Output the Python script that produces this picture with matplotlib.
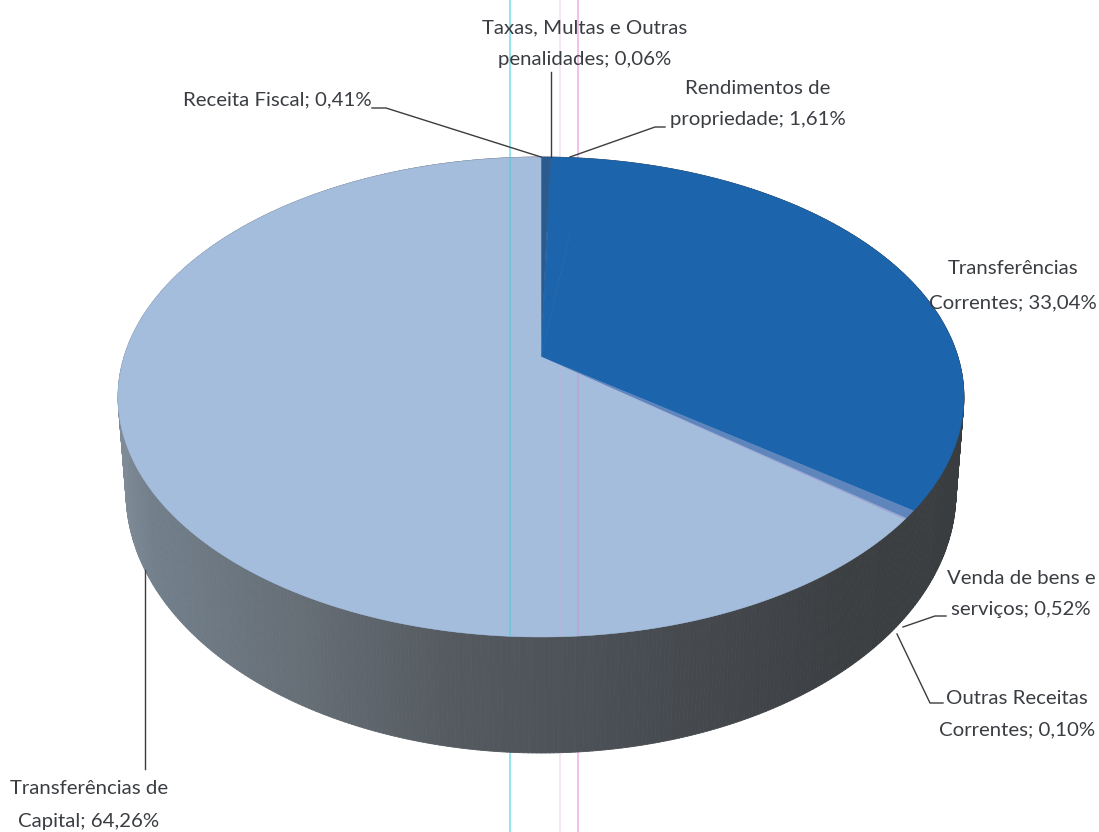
import numpy as np
from matplotlib import pyplot as plt
from matplotlib.collections import PolyCollection
from matplotlib.colors import to_rgb

plt.rcParams['font.family'] = ['Lato', 'DejaVu Sans']

# Slices, clockwise from 12 o'clock
categories = ['Receita Fiscal', 'Taxas, Multas e Outras penalidades',
              'Rendimentos de propriedade', 'Transferências Correntes',
              'Venda de bens e serviços', 'Outras Receitas Correntes',
              'Transferências de Capital']
values = [0.41, 0.06, 1.61, 33.04, 0.52, 0.10, 64.26]
slice_colors = ['#2a5a8e', '#2f6298', '#1c64ac', '#1c64ac',
                '#5f85bd', '#9aa6d2', '#a4bddd']

# Label text and where it sits
label_lines = [['Receita Fiscal; 0,41%'],
               ['Taxas, Multas e Outras', 'penalidades; 0,06%'],
               ['Rendimentos de', 'propriedade; 1,61%'],
               ['Transferências', 'Correntes; 33,04%'],
               ['Venda de bens e', 'serviços; 0,52%'],
               ['Outras Receitas', 'Correntes; 0,10%'],
               ['Transferências de', 'Capital; 64,26%']]
label_x = [277, 585, 758, 1013, 1021, 1017, 89]
label_y = [[100], [28, 60], [89, 119], [269, 303], [578, 609], [698, 730], [788, 821]]

leaders = [[(372, 108), (386, 108), (541, 157)],
           [(551, 72), (551, 157)],
           [(665, 127), (655, 127), (570, 157)],
           [(946, 616), (935, 616), (903, 627)],
           [(897, 634), (930, 703), (943, 703)],
           [(145, 570), (145, 769)]]

# Side wall colour against screen x
wall_x = [118, 150, 300, 450, 600, 750, 850, 965]
wall_c = ['#7f8c98', '#727f8b', '#666e76', '#545a60', '#4b5056', '#424549', '#3c3f42', '#3a3d3f']

# Scanner streaks: colour on paper, colour where they cross the light slice
streak_x = [510, 560, 578]
streak_c = ['#7fe3e6', '#f6e3f4', '#efb6ea']
streak_face = ['#6cc6d8', '#b4b6da', '#b9a5d8']

# Perspective of the pie's two circles (top face, bottom face)
K = 1 / 6


def project(t, x0, y0, a, b):
    # t is clockwise from the back of the pie
    u, v = np.sin(t), np.cos(t)
    w = 1 + K * v
    return x0 + a * u / w, y0 - b * v / w


top = (541, 357, 417, 233.3)
bottom = (541, 448.5, 409.2, 253.75)

fig = plt.figure(figsize=(10.99, 8.32), dpi=100)
ax = fig.add_axes([0, 0, 1, 1])
ax.set_xlim(0, 1099)
ax.set_ylim(832, 0)
ax.axis('off')

# Streaks on the paper, under everything
for x, c in zip(streak_x, streak_c):
    ax.axvline(x, color=c, linewidth=1.2, zorder=0.5)

# Side wall as thin quads, coloured by x
t = np.linspace(0, 2 * np.pi, 721)
tx, ty = project(t, *top)
bx, by = project(t, *bottom)
quads, cols = [], []
rgb = np.array([to_rgb(c) for c in wall_c])
for i in range(len(t) - 1):
    quads.append([(tx[i], ty[i]), (tx[i + 1], ty[i + 1]), (bx[i + 1], by[i + 1]), (bx[i], by[i])])
    xm = (tx[i] + tx[i + 1]) / 2
    cols.append([np.interp(xm, wall_x, rgb[:, j]) for j in range(3)])
ax.add_collection(PolyCollection(quads, facecolors=cols, edgecolors=cols, linewidths=0.6, zorder=1))

# Top face wedges from the values
edges = np.cumsum([0] + values) / sum(values) * 2 * np.pi
wedges = []
for i in range(len(values)):
    arc = np.linspace(edges[i], edges[i + 1], max(3, int(values[i] * 8)))
    px, py = project(arc, *top)
    wedges.append(ax.fill(np.r_[top[0], px], np.r_[top[1], py], facecolor=slice_colors[i],
                          edgecolor=slice_colors[i], linewidth=0.4, zorder=2)[0])

# Streaks only show through on the light slice
for x, c in zip(streak_x, streak_face):
    line = ax.axvline(x, color=c, linewidth=1.2, zorder=2.5)
    line.set_clip_path(wedges[-1])

# Leader lines
for pts in leaders:
    xs, ys = zip(*pts)
    ax.plot(xs, ys, color='#3c3c40', linewidth=1.0, zorder=3)

# Labels
for i in range(len(label_lines)):
    for line, y in zip(label_lines[i], label_y[i]):
        ax.text(label_x[i], y, line, ha='center', va='center', fontsize=14.7,
                color='#3a3d42', zorder=4)

fig.savefig('out.png', dpi=100)
